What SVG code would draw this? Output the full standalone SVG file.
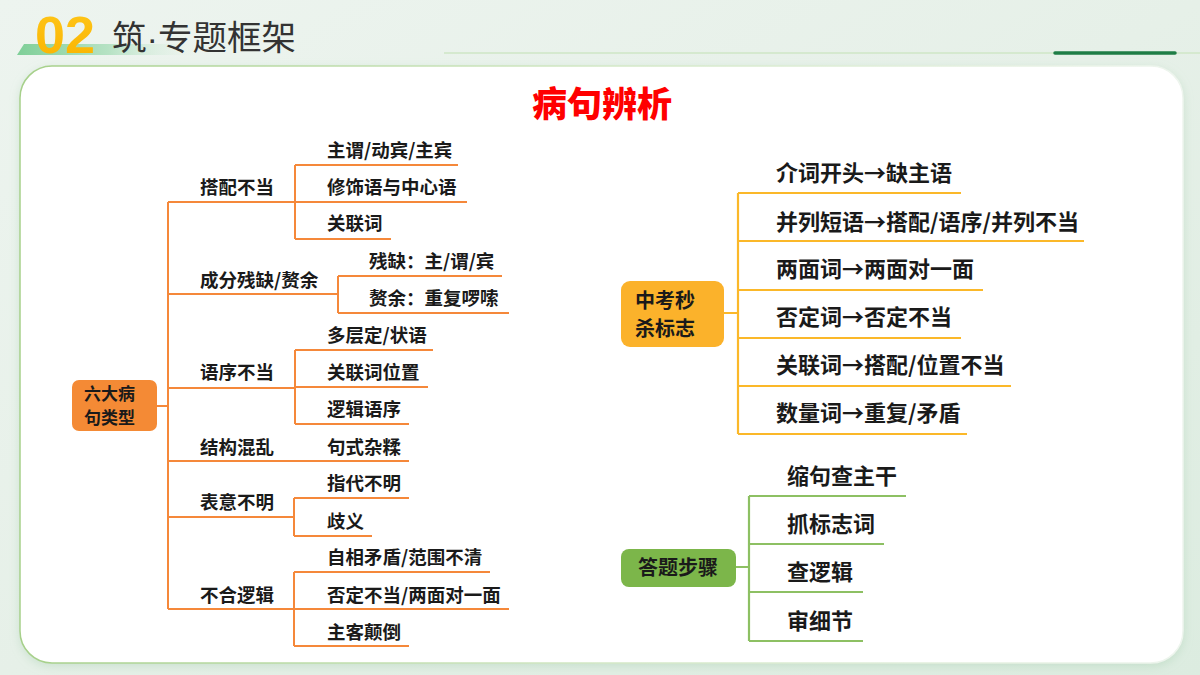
<svg xmlns="http://www.w3.org/2000/svg" width="1200" height="675" viewBox="0 0 1200 675">
<defs>
<linearGradient id="bg" x1="0" y1="0" x2="1" y2="1">
<stop offset="0" stop-color="#edf4ef"/>
<stop offset="0.5" stop-color="#e6f0e8"/>
<stop offset="1" stop-color="#dcece0"/>
</linearGradient>
<linearGradient id="stripe" x1="0" y1="0" x2="1" y2="0">
<stop offset="0" stop-color="#7fcf98"/>
<stop offset="0.5" stop-color="#b6e2c4"/>
<stop offset="1" stop-color="#e6f2e8" stop-opacity="0"/>
</linearGradient>
<linearGradient id="num" x1="0" y1="0" x2="0" y2="1">
<stop offset="0" stop-color="#ffc61a"/>
<stop offset="1" stop-color="#f9b300"/>
</linearGradient>
<linearGradient id="cardStroke" x1="0" y1="0" x2="1" y2="0">
<stop offset="0" stop-color="#a6d08a"/>
<stop offset="0.5" stop-color="#d3e8c6"/>
<stop offset="1" stop-color="#eef5ee"/>
</linearGradient>
<filter id="shadow" x="-5%" y="-5%" width="110%" height="115%">
<feDropShadow dx="0" dy="3" stdDeviation="5" flood-color="#9cc9a6" flood-opacity="0.35"/>
</filter>
<style>
.t{font-family:"Noto Sans CJK SC","Noto Sans",sans-serif;font-weight:700;fill:#1a1a1a}
.s{font-size:18.5px}
.m{font-size:22px}
.bx{font-size:20px}
.o{stroke:#f5883a;stroke-width:2;fill:none}
.y{stroke:#fbb829;stroke-width:2.2;fill:none}
.g{stroke:#8dc063;stroke-width:2.2;fill:none}
</style>
</defs>
<rect width="1200" height="675" fill="url(#bg)"/>
<!-- header -->
<g id="header">
<polygon points="24,44 200,44 200,55 17,55" fill="url(#stripe)"/>
<text x="35" y="53" font-family="'Liberation Sans',sans-serif" font-weight="700" font-size="51" fill="url(#num)" textLength="60" lengthAdjust="spacingAndGlyphs">02</text>
<text x="112" y="50" font-family="'Noto Sans CJK SC',sans-serif" font-size="34" fill="#333333" textLength="184" lengthAdjust="spacingAndGlyphs">筑<tspan font-family="'Liberation Sans',sans-serif">·</tspan>专题框架</text>
<line x1="444" y1="53" x2="1200" y2="53" stroke="#d5e9cf" stroke-width="2"/>
<line x1="1055" y1="53" x2="1175" y2="53" stroke="#1f7d46" stroke-width="3.5" stroke-linecap="round"/>
</g>
<!-- card -->
<rect x="20" y="66" width="1163" height="597" rx="32" fill="#ffffff" stroke="url(#cardStroke)" stroke-width="1.5" filter="url(#shadow)"/>
<text x="602" y="117" text-anchor="middle" font-family="'Noto Sans CJK SC',sans-serif" font-weight="900" font-size="35" fill="#ff0000">病句辨析</text>
<!-- connectors -->
<g id="connectors">
<path class="o" d="M157,406H168M168,202V609"/>
<path class="o" d="M168,202H295M295,165V239M295,165H458M295,202H467M295,239H391"/>
<path class="o" d="M168,294H338M338,276V313M338,276H502M338,313H509"/>
<path class="o" d="M168,388H295M295,350V424M295,350H433M295,387H428M295,424H409"/>
<path class="o" d="M168,461H409"/>
<path class="o" d="M168,517H294M294,498V536M294,498H409M294,536H372"/>
<path class="o" d="M168,609H294M294,572V646M294,572H490M294,609H509M294,646H409"/>
<path class="y" d="M724,313H738M738,193V434M738,193H961M738,241H1084M738,290H983M738,338H961M738,386H1011M738,434H967"/>
<path class="g" d="M736,567H749M749,496V641M749,496H906M749,544H884M749,592H863M749,641H863"/>
</g>
<!-- left tree -->
<g id="root">
<rect x="72" y="380" width="85" height="51" rx="7" fill="#f48a35"/>
<text class="t" x="84" y="400" font-size="17">六大病<tspan x="84" y="424">句类型</tspan></text>
</g>
<g id="b1">
<text class="t s" x="200" y="194">搭配不当</text>
<text class="t s" x="327" y="157">主谓/动宾/主宾</text>
<text class="t s" x="327" y="194">修饰语与中心语</text>
<text class="t s" x="327" y="230">关联词</text>
</g>
<g id="b2">
<text class="t s" x="200" y="287">成分残缺/赘余</text>
<text class="t s" x="369" y="268">残缺：主/谓/宾</text>
<text class="t s" x="369" y="305">赘余：重复啰嗦</text>
</g>
<g id="b3">
<text class="t s" x="200" y="379">语序不当</text>
<text class="t s" x="327" y="342">多层定/状语</text>
<text class="t s" x="327" y="379">关联词位置</text>
<text class="t s" x="327" y="416">逻辑语序</text>
</g>
<g id="b4">
<text class="t s" x="200" y="454">结构混乱</text>
<text class="t s" x="327" y="454">句式杂糅</text>
</g>
<g id="b5">
<text class="t s" x="200" y="509">表意不明</text>
<text class="t s" x="327" y="490">指代不明</text>
<text class="t s" x="327" y="528">歧义</text>
</g>
<g id="b6">
<text class="t s" x="200" y="602">不合逻辑</text>
<text class="t s" x="327" y="564">自相矛盾/范围不清</text>
<text class="t s" x="327" y="602">否定不当/两面对一面</text>
<text class="t s" x="327" y="639">主客颠倒</text>
</g>
<!-- right top -->
<g id="signs">
<rect x="621" y="281" width="103" height="66" rx="9" fill="#fbb22b"/>
<text class="t bx" x="635" y="307.6">中考秒<tspan x="635" y="335.6">杀标志</tspan></text>
</g>
<g id="signs-items">
<text class="t m" x="776" y="181">介词开头→缺主语</text>
<text class="t m" x="776" y="230">并列短语→搭配/语序/并列不当</text>
<text class="t m" x="776" y="277">两面词→两面对一面</text>
<text class="t m" x="776" y="325">否定词→否定不当</text>
<text class="t m" x="776" y="373">关联词→搭配/位置不当</text>
<text class="t m" x="776" y="421">数量词→重复/矛盾</text>
</g>
<!-- right bottom -->
<g id="steps">
<rect x="621" y="549" width="115" height="38" rx="8" fill="#7cb64a"/>
<text class="t bx" x="678" y="574.6" text-anchor="middle">答题步骤</text>
</g>
<g id="steps-items">
<text class="t m" x="787" y="484">缩句查主干</text>
<text class="t m" x="787" y="532">抓标志词</text>
<text class="t m" x="787" y="580">查逻辑</text>
<text class="t m" x="787" y="629">审细节</text>
</g>
</svg>
